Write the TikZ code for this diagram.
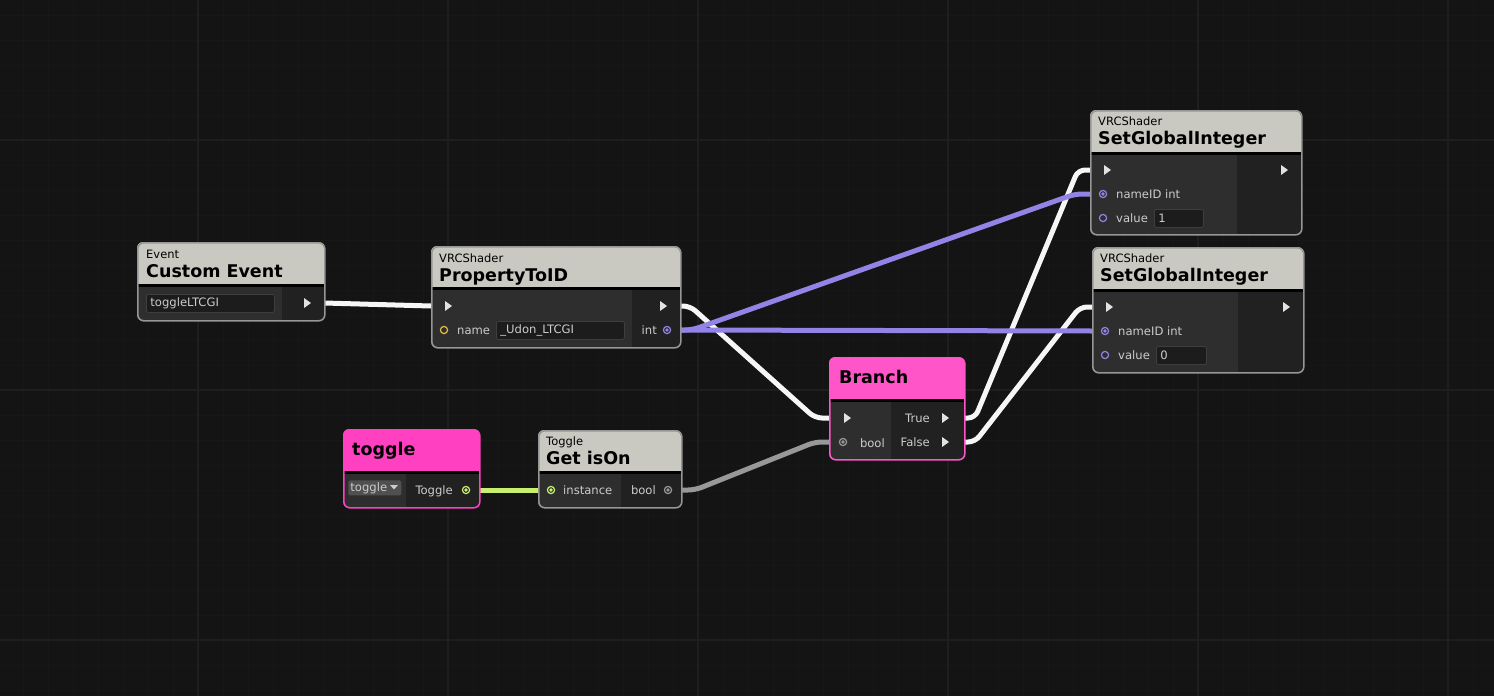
\documentclass[tikz,border=0pt]{standalone}
\usepackage{fontspec}
\setmainfont{DejaVu Sans}
\usetikzlibrary{calc,positioning}
\definecolor{bgDark}{RGB}{20,20,20}
\definecolor{gridMinor}{RGB}{23,23,23}
\definecolor{gridMajor}{RGB}{30,30,30}
\definecolor{headGray}{RGB}{201,201,193}
\definecolor{frameGray}{RGB}{150,150,150}
\definecolor{panelL}{RGB}{46,46,46}
\definecolor{panelR}{RGB}{33,33,33}
\definecolor{fieldFill}{RGB}{28,28,28}
\definecolor{fieldLine}{RGB}{62,62,62}
\definecolor{dropFill}{RGB}{80,80,80}
\definecolor{bodyText}{RGB}{204,204,204}
\definecolor{branchPink}{RGB}{255,85,200}
\definecolor{togglePink}{RGB}{255,64,192}
\definecolor{wireWhite}{RGB}{246,246,246}
\definecolor{wirePurple}{RGB}{146,132,230}
\definecolor{wireGreen}{RGB}{200,240,110}
\definecolor{wireGray}{RGB}{152,152,152}
\definecolor{portYellow}{RGB}{230,190,70}

\begin{document}
\begin{tikzpicture}[x=1pt,y=-1pt,
  nodeframe/.style={draw=frameGray,line width=1.6pt,rounded corners=6pt,inner sep=0pt,anchor=north west},
  nodesub/.style={anchor=base west,inner sep=0pt,text=black,font=\fontsize{11.5}{12}\selectfont},
  nodetitle/.style={anchor=base west,inner sep=0pt,text=black,font=\bfseries\fontsize{17.5}{19}\selectfont},
  porttext/.style={inner sep=0pt,text=bodyText,font=\fontsize{11.6}{12}\selectfont},
  valuebox/.style={draw=fieldLine,fill=fieldFill,rounded corners=2pt,line width=0.8pt,anchor=north west,inner xsep=4pt,inner ysep=0pt,minimum height=18pt,align=left,text=bodyText,font=\fontsize{11.6}{12}\selectfont},
  flowwire/.style={draw=wireWhite,line width=5pt,rounded corners=7pt},
  intwire/.style={draw=wirePurple,line width=5pt,rounded corners=7pt},
  togglewire/.style={draw=wireGreen,line width=5pt},
  boolwire/.style={draw=wireGray,line width=5pt,rounded corners=7pt},
  flowtip/.style={fill=wireWhite!92!black}]
\path[use as bounding box] (0,0) rectangle (1494,696);
\fill[bgDark] (0,0) rectangle (1494,696);

% grid
\foreach \gx in {23,48,...,1493} \draw[gridMinor,line width=1pt] (\gx,0) -- (\gx,696);
\foreach \gy in {15,40,...,690} \draw[gridMinor,line width=1pt] (0,\gy) -- (1494,\gy);
\foreach \gx in {198,448,...,1448} \draw[gridMajor,line width=2pt] (\gx,0) -- (\gx,696);
\foreach \gy in {140,390,640} \draw[gridMajor,line width=2pt] (0,\gy) -- (1494,\gy);

% ports
\coordinate (evt-out) at (324,303);
\coordinate (pid-in) at (431,306);
\coordinate (pid-out) at (680,306);
\coordinate (pid-int) at (680,330);
\coordinate (br-in) at (829,418);
\coordinate (br-bool) at (829,442);
\coordinate (br-true) at (964,418);
\coordinate (br-false) at (964,442);
\coordinate (tgl-out) at (479,490);
\coordinate (gio-in) at (538,490);
\coordinate (gio-out) at (681,490);
\coordinate (sgi1-in) at (1090,170);
\coordinate (sgi1-id) at (1090,194);
\coordinate (sgi2-in) at (1092,307);
\coordinate (sgi2-id) at (1092,331);

% wires
\draw[flowwire] (evt-out) -- (pid-in);
\draw[flowwire] (pid-out) -- ++(10,0) -- ($(br-in)+(-14,0)$) -- (br-in);
\draw[flowwire] (br-true) -- ++(11,0) -- ($(sgi1-in)+(-12,0)$) -- (sgi1-in);
\draw[flowwire] (br-false) -- ++(11,0) -- ($(sgi2-in)+(-12,0)$) -- (sgi2-in);
\draw[intwire] (pid-int) -- ++(12,0) -- ($(sgi1-id)+(-15,0)$) -- (sgi1-id);
\draw[intwire] (pid-int) -- (sgi2-id);
\draw[togglewire] (tgl-out) -- (gio-in);
\draw[boolwire] (gio-out) -- ++(14,0) -- ($(br-bool)+(-14,0)$) -- (br-bool);

% Custom Event
\begin{scope}
\clip[rounded corners=6pt] (137,242) rectangle (324,320);
\fill[headGray] (137,242) rectangle (324,284);
\fill[black] (137,284) rectangle (324,287);
\fill[panelL] (137,287) rectangle (282,320);
\fill[panelR] (282,287) rectangle (324,320);
\end{scope}
\node[nodeframe,minimum width=187pt,minimum height=78pt] (evt) at (137,242) {};
\node[nodesub] (evt-sub) at (146,258) {Event};
\node[nodetitle] (evt-title) at (146,277) {Custom Event};
\node[valuebox,text width=120pt] (evt-name) at (146,294) {toggleLTCGI};

% PropertyToID
\begin{scope}
\clip[rounded corners=6pt] (431,246) rectangle (680,347);
\fill[headGray] (431,246) rectangle (680,287);
\fill[black] (431,287) rectangle (680,290);
\fill[panelL] (431,290) rectangle (632,347);
\fill[panelR] (632,290) rectangle (680,347);
\end{scope}
\node[nodeframe,minimum width=249pt,minimum height=101pt] (pid) at (431,246) {};
\node[nodesub] (pid-sub) at (439,262) {VRCShader};
\node[nodetitle] (pid-title) at (439,281) {PropertyToID};
\node[porttext,anchor=base west] (pid-name) at (457,334) {name};
\node[valuebox,text width=120pt] (pid-value) at (496,321) {\_Udon\_LTCGI};
\node[porttext,anchor=base east] (pid-int-text) at (657,334) {int};

% Branch
\begin{scope}
\clip[rounded corners=6pt] (829,357) rectangle (964,459);
\fill[branchPink] (829,357) rectangle (964,399);
\fill[black] (829,399) rectangle (964,402);
\fill[panelL] (829,402) rectangle (891,459);
\fill[panelR] (891,402) rectangle (964,459);
\end{scope}
\node[nodeframe,draw=branchPink,minimum width=135pt,minimum height=102pt] (br) at (829,357) {};
\node[nodetitle] (br-title) at (839,383) {Branch};
\node[porttext,anchor=base east] (br-bool-text) at (885,447) {bool};
\node[porttext,anchor=base east] (br-true-text) at (930,422) {True};
\node[porttext,anchor=base east] (br-false-text) at (930,446) {False};

% toggle
\begin{scope}
\clip[rounded corners=6pt] (343,429) rectangle (479,507);
\fill[togglePink] (343,429) rectangle (479,471);
\fill[black] (343,471) rectangle (479,474);
\fill[panelL] (343,474) rectangle (406,507);
\fill[panelR] (406,474) rectangle (479,507);
\end{scope}
\node[nodeframe,draw=togglePink,minimum width=136pt,minimum height=78pt] (tgl) at (343,429) {};
\node[nodetitle] (tgl-title) at (352,455) {toggle};
\node[valuebox,draw=none,fill=dropFill,text width=49pt,minimum height=15pt,rounded corners=1.5pt,inner xsep=2pt] (tgl-drop) at (348,480) {toggle};
\fill[bodyText] (390,485) -- (398,485) -- (394,489.5) -- cycle;
\node[porttext,anchor=base east] (tgl-text) at (453,494) {Toggle};

% Get isOn
\begin{scope}
\clip[rounded corners=6pt] (538,430) rectangle (681,507);
\fill[headGray] (538,430) rectangle (681,471);
\fill[black] (538,471) rectangle (681,474);
\fill[panelL] (538,474) rectangle (621,507);
\fill[panelR] (621,474) rectangle (681,507);
\end{scope}
\node[nodeframe,minimum width=143pt,minimum height=77pt] (gio) at (538,430) {};
\node[nodesub] (gio-sub) at (546,445) {Toggle};
\node[nodetitle] (gio-title) at (546,464) {Get isOn};
\node[porttext,anchor=base west] (gio-inst) at (563,494) {instance};
\node[porttext,anchor=base east] (gio-bool) at (656,494) {bool};

% SetGlobalInteger 1
\begin{scope}
\clip[rounded corners=6pt] (1090,110) rectangle (1301,234);
\fill[headGray] (1090,110) rectangle (1301,152);
\fill[black] (1090,152) rectangle (1301,155);
\fill[panelL] (1090,155) rectangle (1237,234);
\fill[panelR] (1237,155) rectangle (1301,234);
\end{scope}
\node[nodeframe,minimum width=211pt,minimum height=124pt] (sgi1) at (1090,110) {};
\node[nodesub] (sgi1-sub) at (1098,125) {VRCShader};
\node[nodetitle] (sgi1-title) at (1098,144) {SetGlobalInteger};
\node[porttext,anchor=base west] (sgi1-nameid) at (1116,198) {nameID int};
\node[porttext,anchor=base west] (sgi1-val) at (1116,222) {value};
\node[valuebox,text width=41pt] (sgi1-num) at (1154,209) {1};

% SetGlobalInteger 2
\begin{scope}
\clip[rounded corners=6pt] (1092,247) rectangle (1303,372);
\fill[headGray] (1092,247) rectangle (1303,289);
\fill[black] (1092,289) rectangle (1303,292);
\fill[panelL] (1092,292) rectangle (1238,372);
\fill[panelR] (1238,292) rectangle (1303,372);
\end{scope}
\node[nodeframe,minimum width=211pt,minimum height=125pt] (sgi2) at (1092,247) {};
\node[nodesub] (sgi2-sub) at (1100,262) {VRCShader};
\node[nodetitle] (sgi2-title) at (1100,281) {SetGlobalInteger};
\node[porttext,anchor=base west] (sgi2-nameid) at (1118,335) {nameID int};
\node[porttext,anchor=base west] (sgi2-val) at (1118,359) {value};
\node[valuebox,text width=42pt] (sgi2-num) at (1156,346) {0};

% flow arrows
\foreach \px/\py in {307/303,448/306,663/306,847/418,945/418,945/442,1107/170,1284/170,1109/307,1286/307}
  \fill[flowtip] (\px-3,\py-5) -- (\px+4,\py) -- (\px-3,\py+5) -- cycle;

% port circles
\foreach \px/\py/\pc in {667/330/wirePurple,1103/194/wirePurple,1105/331/wirePurple,843/442/wireGray,668/490/wireGray,466/490/wireGreen,551/490/wireGreen}{
  \draw[\pc,line width=1.2pt] (\px,\py) circle[radius=3.6pt];
  \fill[\pc] (\px,\py) circle[radius=1.8pt];
}
\foreach \px/\py/\pc in {444/330/portYellow,1103/218/wirePurple,1105/355/wirePurple}
  \draw[\pc,line width=1.2pt] (\px,\py) circle[radius=3.6pt];
\end{tikzpicture}
\end{document}
